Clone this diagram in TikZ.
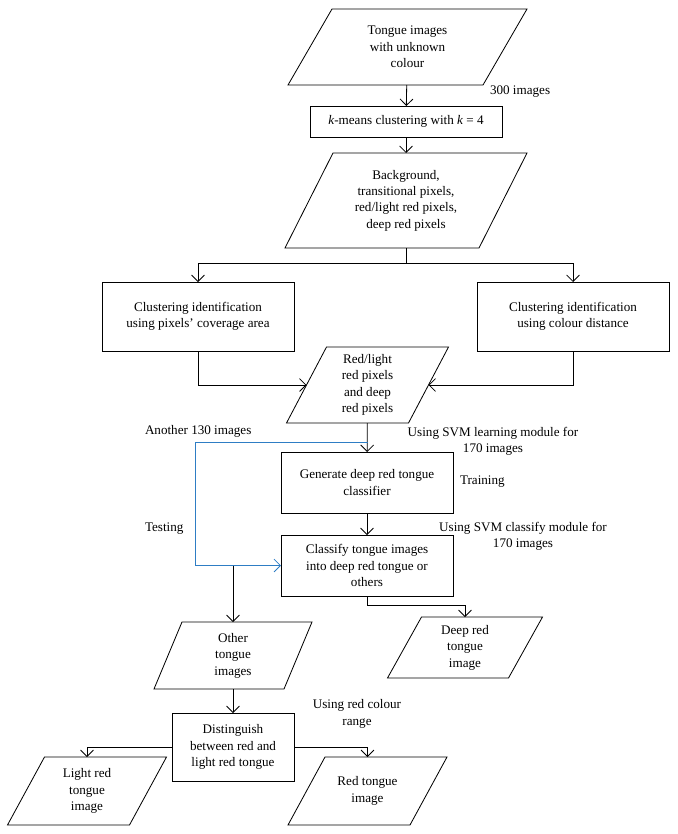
\documentclass[tikz,border=0pt]{standalone}
\usepackage{fontspec}
\setmainfont{Liberation Serif}
\usetikzlibrary{arrows.meta}
\definecolor{testblue}{RGB}{46,125,196}

% outline of a slanted data box round node #1, slant #2 (px)
\newcommand{\slantdraw}[2]{%
  \draw ([xshift=#2*0.015cm]#1.north west) -- ([xshift=#2*0.015cm]#1.north east)
     -- ([xshift=-#2*0.015cm]#1.south east) -- ([xshift=-#2*0.015cm]#1.south west) -- cycle;}

\begin{document}
\begin{tikzpicture}[x=0.03cm,y=-0.03cm,line width=0.7pt,>={Straight Barb[length=5.5pt,width=11pt]}]
	\tikzstyle{every node} = [font=\fontsize{11.2}{14}\selectfont,align=center,outer sep=0pt]
	\tikzstyle{proc} = [draw,shape=rectangle]
	\tikzstyle{data} = [shape=rectangle,inner sep=0pt]
	\tikzstyle{note} = [inner sep=0pt]
	\tikzstyle{testline} = [draw=testblue]
	\useasboundingbox (0,0) rectangle (678,834);

	\node[data,minimum width=5.85cm,minimum height=2.28cm] (input) at (407.5,47) {Tongue images\\with unknown\\colour};
	\node[proc,minimum width=5.76cm,minimum height=0.93cm] (kmeans) at (406,121.5) {\textit{k}-means clustering with \textit{k} = 4};
	\node[data,minimum width=5.82cm,minimum height=2.85cm] (pixels) at (406,200.5) {Background,\\transitional pixels,\\red/light red pixels,\\deep red pixels};

	\node[proc,minimum width=5.76cm,minimum height=2.07cm] (coverage) at (198,316.5) {Clustering identification\\using pixels' coverage area};
	\node[proc,minimum width=5.76cm,minimum height=2.07cm] (distance) at (573,316.5) {Clustering identification\\using colour distance};

	\node[data,minimum width=3.66cm,minimum height=2.28cm] (redpix) at (367.5,385) {Red/light\\red pixels\\and deep\\red pixels};
	\node[proc,minimum width=5.16cm,minimum height=1.83cm] (generate) at (367,482.5) {Generate deep red tongue\\classifier};
	\node[proc,minimum width=5.16cm,minimum height=1.83cm] (classify) at (367,565.5) {Classify tongue images\\into deep red tongue or\\others};

	\node[data,minimum width=3.9cm,minimum height=2.01cm] (other) at (233,655.5) {Other\\tongue\\images};
	\node[data,minimum width=3.63cm,minimum height=1.83cm] (deep) at (465,647.5) {Deep red\\tongue\\image};
	\node[proc,minimum width=3.66cm,minimum height=2.04cm] (separate) at (233,747) {Distinguish\\between red and\\light red tongue};
	\node[data,minimum width=3.66cm,minimum height=2.04cm] (light) at (87,791) {Light red\\tongue\\image};
	\node[data,minimum width=3.66cm,minimum height=2.04cm] (red) at (367.5,791) {Red tongue\\image};

	\slantdraw{input}{44}
	\slantdraw{pixels}{48}
	\slantdraw{redpix}{40}
	\slantdraw{other}{28}
	\slantdraw{deep}{34}
	\slantdraw{light}{37}
	\slantdraw{red}{37}

	\node[note,anchor=west] (n300) at (490,92) {300 images};
	\node[note,anchor=west] (another) at (145,431) {Another 130 images};
	\node[note] (learn) at (493,441) {Using SVM learning module for\\170 images};
	\node[note,anchor=west] (training) at (460,482) {Training};
	\node[note,anchor=west] (testing) at (145,529) {Testing};
	\node[note] (svmcls) at (523,536) {Using SVM classify module for\\170 images};
	\node[note] (range) at (357,714) {Using red colour\\range};

	\coordinate (split) at (367.5,442);
	\coordinate (bend) at (195,442);

	\draw [->] (input) -- (kmeans);
	\draw [->] (kmeans) -- (pixels);
	\draw [->] (pixels.south) -- ++(0,15) -| (coverage.north);
	\draw [->] (pixels.south) -- ++(0,15) -| (distance.north);
	\draw [->] (coverage.south) |- (redpix.west);
	\draw [->] (distance.south) |- (redpix.east);
	\draw [->] (redpix) -- (generate);
	\draw [->] (generate) -- (classify);
	\draw [->,testline] (split) -- (bend) |- (classify.west);
	\draw [->] (other.north |- classify.west) -- (other.north);
	\draw [->] (classify.south) -- ++(0,9) -| (deep.north);
	\draw [->] (other) -- (separate);
	\draw [->] (separate.west) -| (light.north);
	\draw [->] (separate.east) -| (red.north);

\end{tikzpicture}
\end{document}
